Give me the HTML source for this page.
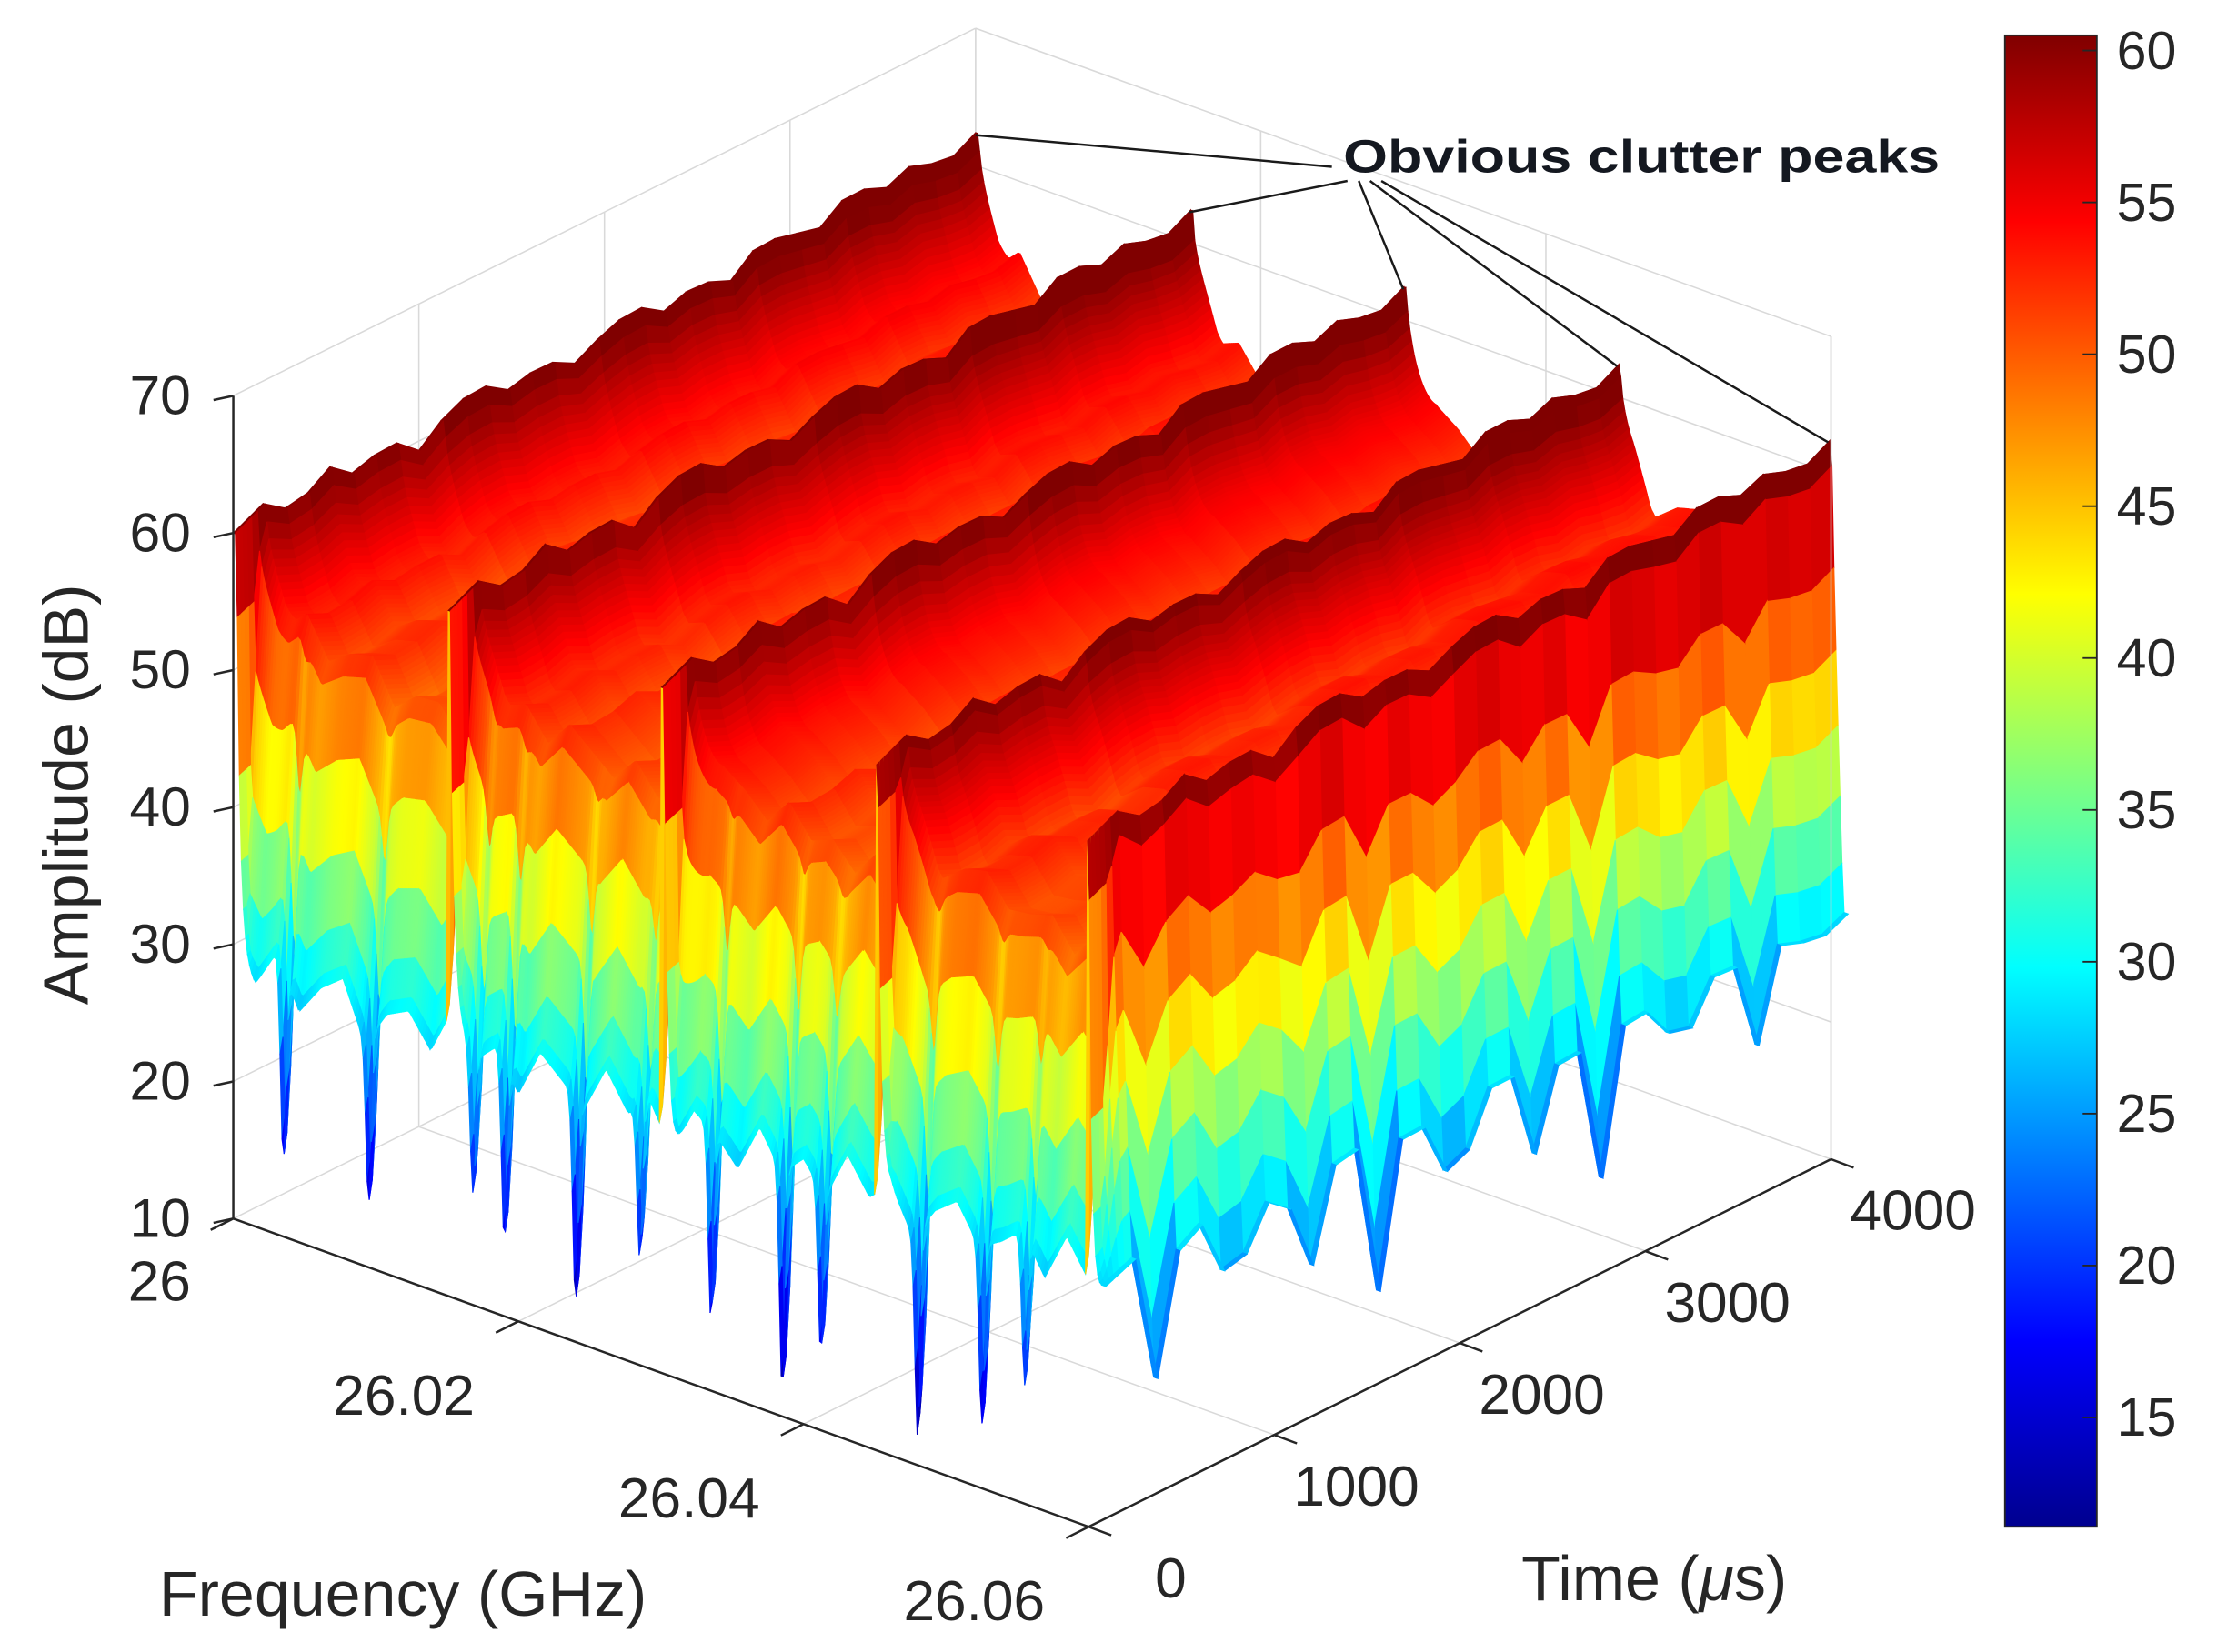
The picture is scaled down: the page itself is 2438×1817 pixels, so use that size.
<!DOCTYPE html>
<html><head><meta charset="utf-8">
<style>
html,body{margin:0;padding:0;background:#fff;}
svg{display:block;}
text{font-family:"Liberation Sans",sans-serif;fill:#262626;}
</style></head>
<body>
<svg id="chart" width="2438" height="1817" viewBox="0 0 1568 1168.6" xmlns="http://www.w3.org/2000/svg">
<defs>
<linearGradient id="jetgrad" x1="0" y1="1" x2="0" y2="0">
<stop offset="0" stop-color="#00008f"/>
<stop offset="0.125" stop-color="#0000ff"/>
<stop offset="0.375" stop-color="#00ffff"/>
<stop offset="0.625" stop-color="#ffff00"/>
<stop offset="0.875" stop-color="#ff0000"/>
<stop offset="1" stop-color="#800000"/>
</linearGradient>
</defs>
<g id="walls"></g>
<g id="surface"></g>
<g id="axes"></g>
<g id="annot">
<text x="950" y="122" font-size="33" font-weight="bold" textLength="422" lengthAdjust="spacingAndGlyphs" style="font-family:'Liberation Sans Narrow','Liberation Sans',sans-serif;fill:#141820">Obvious clutter peaks</text>
</g>
<g id="cbar">
<rect x="1418" y="25" width="65" height="1055" fill="url(#jetgrad)" stroke="#262626" stroke-width="1.2"/>
</g>
</svg>
<script>
// ---- data ----
const freqTicks = [26, 26.02, 26.04, 26.06];
const freqTickLabels = ["26", "26.02", "26.04", "26.06"];
const timeTicks = [0, 1000, 2000, 3000, 4000];
const timeTickLabels = ["0", "1000", "2000", "3000", "4000"];
const ampTicks = [10, 20, 30, 40, 50, 60, 70];
const cbarTicks = [15, 20, 25, 30, 35, 40, 45, 50, 55, 60];
const ridgeFreqs = [26.0, 26.015, 26.030, 26.045, 26.0598];
const ridgePeakByTime = [60, 60.5, 61, 61.5, 62];      // crest level at t = 0,1000,...,4000
const plateauByTime = [53, 53, 53.5, 54, 54];          // level behind each crest
const edgeLevel = 28.5;                                // level at the front / right edges
const dipFreqs = [26.0035, 26.0095, 26.0168, 26.019, 26.024, 26.0285, 26.0335, 26.0385, 26.0412, 26.048, 26.0525, 26.0555];
const dipDepths = [14, 12, 10, 13, 15, 11, 14, 16, 12, 15, 13, 11];
const dipTimes = [300, 700, 1150, 1500, 1900, 2350, 2700, 3100, 3500];
const dipTimeDepths = [10, 14, 9, 12, 15, 8, 11, 9, 7];
const rippleF = [1.5,-0.8,2.0,-1.6,0.6,1.8,-2.2,0.4,1.2,-1.0,2.4,-0.6,0.9,-1.8,1.6,0.2,-1.2,2.1,-0.4,1.0,-2.0,1.4,0.3,-1.5,1.9,-0.7,0.8,-1.3,2.2,-0.2,1.1,-1.9,0.5,1.7,-0.9,0.0,1.3,-1.4,2.0,-0.5];
const rippleT = [0.0,0.8,-0.6,1.0,-0.4,0.6,-0.9,0.5,0.9,-0.3,0.4,-0.7,0.2,0.7,-0.5,0.3,-0.8,0.6,0.1,-0.4,0.9,-0.2,0.5,-0.6,0.3];
const F0 = 26, F1 = 26.06, T0 = 0, T1 = 4000, Z0 = 10, Z1 = 70, C0 = 11.4, C1 = 60.5;
const FEND = 26.0612;

// ---- axes functions ----
function fu(f){return (f-F0)/(F1-F0);}
function tu(t){return (t-T0)/(T1-T0);}
function proj(f,t,z){
  const a=fu(f), b=tu(t), c=(z-Z0)/(Z1-Z0);
  return [165+605*a+525*b, 862+218*a-260*b-582*c];
}
function cbY(v){return 1080-(v-C0)/(C1-C0)*1055;}
function interp(arr,u){u=Math.max(0,Math.min(1,u));const p=u*(arr.length-1);const i=Math.min(arr.length-2,Math.floor(p));const r=p-i;return arr[i]*(1-r)+arr[i+1]*r;}
function clamp(v){return Math.max(0,Math.min(1,v));}
function jet(v){
  const x=clamp((v-C0)/(C1-C0));
  const r=clamp(1.5-Math.abs(4*x-3)), g=clamp(1.5-Math.abs(4*x-2)), b=clamp(1.5-Math.abs(4*x-1));
  return 'rgb('+Math.round(r*255)+','+Math.round(g*255)+','+Math.round(b*255)+')';
}
function surfZ(f,t){
  const a=fu(f), b=tu(t);
  const P=interp(ridgePeakByTime,b)+interp(rippleT,b)*1.3, B=interp(plateauByTime,b);
  const rip=interp(rippleF,Math.min(1,a))*0.7+interp(rippleT,b)*0.8;
  let prev=null,next=null;
  for(const r of ridgeFreqs){ if(r<=f+1e-9) prev=r; else if(next===null) next=r; }
  const e=a-fu(prev);
  const crest = e<0.004 ? 1 : Math.exp(-(e-0.004)/0.004);
  let S;
  if(next===null){
    let dt=0;
    for(let k=0;k<dipTimes.length;k++){ const d=(b-tu(dipTimes[k]))/0.012; dt+=dipTimeDepths[k]*Math.exp(-d*d); }
    const L=edgeLevel+rip*1.5-dt;
    S = e<0.004 ? P : P-(P-L)*Math.pow(clamp((e-0.004)/0.014),0.8);
  } else {
    const d=fu(next)-a;
    let base;
    if(e<0.004) base=P;
    else { const k=clamp((e-0.004)/0.035); base=P-(P-B)*Math.sqrt(k)-4*(e/0.25)+rip*k; }
    S=base+(P-base)*Math.exp(-d/0.003);
  }
  // front edge curtain at t ~ 0 (not under the crests)
  let df=0;
  for(let k=0;k<dipFreqs.length;k++){ const d=(a-fu(dipFreqs[k]))/0.0045; df+=dipDepths[k]*Math.exp(-d*d); }
  const Lf=edgeLevel+rip*1.5-df;
  const h=clamp(b/0.035);
  let s=h*h*(3-2*h);
  s=Math.max(s,crest);
  return Lf+(S-Lf)*s;
}
const NS='http://www.w3.org/2000/svg';
function mk(tag,attrs,parent){const e=document.createElementNS(NS,tag);for(const k in attrs)e.setAttribute(k,attrs[k]);parent.appendChild(e);return e;}
function pts(a){return a.map(p=>p[0].toFixed(2)+','+p[1].toFixed(2)).join(' ');}

// ---- walls & grid ----
const walls=document.getElementById('walls');
const gridC='#d9d9d9';
function gline(p,q,name){const l=mk('line',{x1:p[0],y1:p[1],x2:q[0],y2:q[1],stroke:gridC,'stroke-width':1},walls);}
ampTicks.forEach(z=>{ if(z>Z0){ gline(proj(F0,T0,z),proj(F0,T1,z),'grid-line-amp'); gline(proj(F0,T1,z),proj(F1,T1,z),'grid-line-amp'); }});
timeTicks.forEach(t=>{ gline(proj(F0,t,Z0),proj(F0,t,Z1),'grid-line-time'); gline(proj(F0,t,Z0),proj(F1,t,Z0),'grid-line-time'); });
freqTicks.forEach(f=>{ gline(proj(f,T1,Z0),proj(f,T1,Z1),'grid-line-freq'); gline(proj(f,T0,Z0),proj(f,T1,Z0),'grid-line-freq'); });

// ---- surface ----
const surf=document.getElementById('surface');
const N=430;
const FS=[],TS=[];
for(let i=0;i<=N;i++)FS.push(F0+(FEND-F0)*i/N);
[0,0.004,0.009,0.015,0.022,0.03,0.04].forEach(u=>TS.push(T0+(T1-T0)*u));
for(let j=1;j<=32;j++)TS.push(T0+(T1-T0)*(0.04+0.96*j/32));
const M=TS.length-1;
const Z=[];
for(let i=0;i<=N;i++){Z.push([]);for(let j=0;j<=M;j++){Z[i].push(surfZ(FS[i],TS[j]));}}
const quads=[];
for(let i=0;i<N;i++)for(let j=0;j<M;j++){
  const fc=fu((FS[i]+FS[i+1])/2), tc=tu((TS[j]+TS[j+1])/2);
  quads.push({i,j,key:218*fc-260*tc});
}
quads.sort((a,b)=>a.key-b.key);
for(const q of quads){
  const i=q.i,j=q.j;
  const p=[proj(FS[i],TS[j],Z[i][j]),proj(FS[i+1],TS[j],Z[i+1][j]),proj(FS[i+1],TS[j+1],Z[i+1][j+1]),proj(FS[i],TS[j+1],Z[i][j+1])];
  const c=jet((Z[i][j]+Z[i+1][j]+Z[i+1][j+1]+Z[i][j+1])/4);
  const el=mk('polygon',{points:pts(p),fill:c,stroke:c,'stroke-width':0.7},surf);
  
  
}

// ---- axes ----
const ax=document.getElementById('axes');
function aline(p,q,name,col,w){const l=mk('line',{x1:p[0],y1:p[1],x2:q[0],y2:q[1],stroke:col||'#262626','stroke-width':w||1.6},ax);return l;}
function atext(x,y,s,size,anchor,name){const t=mk('text',{x:x,y:y,'font-size':size,'text-anchor':anchor},ax);t.textContent=s;return t;}
aline(proj(F0,T0,Z0),proj(F0,T0,Z1),'amplitude-axis');
aline(proj(F0,T0,Z0),proj(F1,T0,Z0),'frequency-axis');
aline(proj(F1,T0,Z0),proj(F1,T1,Z0),'time-axis');
aline(proj(F1,T1,Z0),proj(F1,T1,Z1),'box-edge','#d0d0d0',1);
ampTicks.forEach(z=>{const p=proj(F0,T0,z);aline([p[0]-14,p[1]+3],p,'amp-tick');atext(p[0]-30,p[1]+13,String(z),39,'end','amp-tick-label');});
freqTicks.forEach((f,k)=>{const p=proj(f,T0,Z0);aline(p,[p[0]-16,p[1]+8],'freq-tick');
  if(k===0) atext(p[0]-30,p[1]+58,freqTickLabels[k],40,'end','freq-tick-label');
  else atext(p[0]-81,p[1]+66,freqTickLabels[k],40,'middle','freq-tick-label');});
timeTicks.forEach((t,k)=>{const p=proj(F1,t,Z0);aline(p,[p[0]+16,p[1]+6],'time-tick');atext(p[0]+58,p[1]+50,timeTickLabels[k],40,'middle','time-tick-label');});
atext(0,0,'Amplitude (dB)',45,'middle','amplitude-axis-title').setAttribute('transform','translate(62,562) rotate(-90)');
atext(285,1143,'Frequency (GHz)',45,'middle','frequency-axis-title');
const tt=atext(1170,1132,'',45,'middle','time-axis-title');
tt.innerHTML='Time (<tspan font-style="italic">μ</tspan>s)';

// ---- annotation lines ----
const an=document.getElementById('annot');
const peakTargets=[0,1,2,3,4];
peakTargets.forEach(k=>{
  const p=proj(ridgeFreqs[k],T1,interp(ridgePeakByTime,1));
  const from=k===0?[942,118]:[945+k*8,128];
  const l=mk('line',{x1:from[0],y1:from[1],x2:p[0],y2:p[1]-2,stroke:'#1a1a1a','stroke-width':1.6},an);
  
  
});

// ---- colorbar ticks ----
const cb=document.getElementById('cbar');
cbarTicks.forEach(v=>{
  const y=cbY(v);
  const l=mk('line',{x1:1473,y1:y,x2:1483,y2:y,stroke:'#262626','stroke-width':1.2},cb);
  
  
  const t=mk('text',{x:1497,y:y+13,'font-size':38},cb);
  t.textContent=String(v);
  
  
});
</script>
</body></html>
